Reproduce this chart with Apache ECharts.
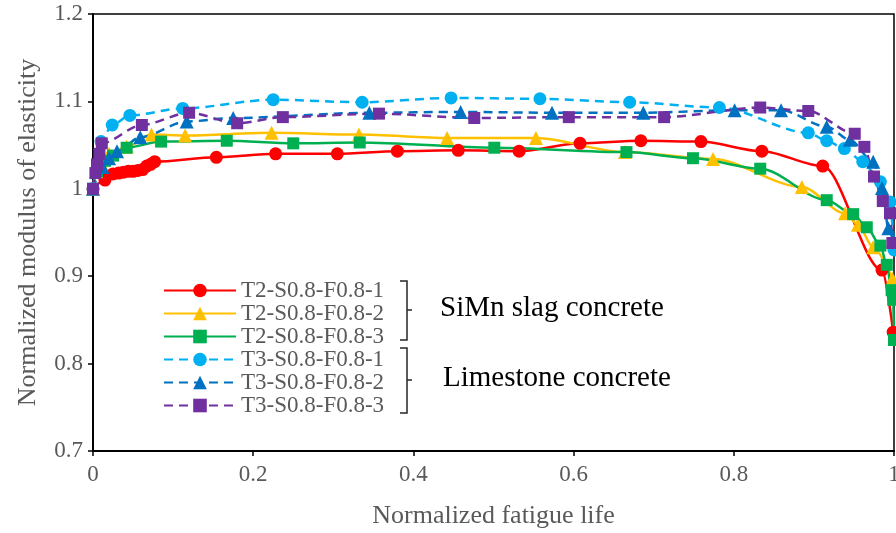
<!DOCTYPE html>
<html>
<head>
<meta charset="utf-8">
<script src="https://cdn.jsdelivr.net/npm/echarts@6/dist/echarts.min.js"></script>
<style>
  html, body { margin: 0; padding: 0; background: #fff; }
  #chart { width: 896px; height: 533px; }
</style>
</head>
<body>
<div id="chart"></div>
<script>
  // normalized fatigue life (x) and normalized modulus (y)
  var names = ['T2-S0.8-F0.8-1', 'T2-S0.8-F0.8-2', 'T2-S0.8-F0.8-3',
    'T3-S0.8-F0.8-1', 'T3-S0.8-F0.8-2', 'T3-S0.8-F0.8-3'];

  var t21X = [0, 0.015, 0.025, 0.032, 0.038, 0.044, 0.05, 0.056, 0.062, 0.067, 0.072, 0.077,
    0.154, 0.228, 0.305, 0.380, 0.456, 0.532, 0.608, 0.684, 0.759, 0.835, 0.911, 0.985, 0.999];
  var t21Y = [1.0, 1.010, 1.017, 1.018, 1.019, 1.020, 1.020, 1.021, 1.022, 1.026, 1.028, 1.031,
    1.036, 1.040, 1.040, 1.043, 1.044, 1.043, 1.052, 1.055, 1.054, 1.043, 1.026, 0.907, 0.836];

  var t22X = [0, 0.004, 0.01, 0.02, 0.042, 0.073, 0.115, 0.223, 0.332, 0.442, 0.553, 0.664,
    0.774, 0.885, 0.939, 0.955, 0.974, 0.998];
  var t22Y = [1.0, 1.02, 1.03, 1.04, 1.048, 1.062, 1.061, 1.064, 1.062, 1.058, 1.058, 1.042,
    1.034, 1.002, 0.972, 0.959, 0.933, 0.897];

  var t23X = [0, 0.005, 0.015, 0.025, 0.042, 0.085, 0.167, 0.250, 0.333, 0.501, 0.666, 0.749,
    0.833, 0.916, 0.949, 0.966, 0.983, 0.991, 0.997, 0.999, 1.0];
  var t23Y = [1.0, 1.02, 1.032, 1.038, 1.047, 1.054, 1.055, 1.052, 1.053, 1.047, 1.042, 1.035,
    1.023, 0.987, 0.971, 0.956, 0.935, 0.913, 0.884, 0.873, 0.827];

  var t31X = [0, 0.01, 0.024, 0.046, 0.112, 0.225, 0.336, 0.447, 0.558, 0.670, 0.782, 0.893,
    0.916, 0.938, 0.961, 0.983, 0.995, 1.0];
  var t31Y = [1.0, 1.054, 1.073, 1.084, 1.092, 1.102, 1.099, 1.104, 1.103, 1.099, 1.093, 1.064,
    1.055, 1.046, 1.031, 1.008, 0.985, 0.93];

  var t32X = [0, 0.012, 0.02, 0.03, 0.059, 0.117, 0.175, 0.345, 0.459, 0.573, 0.687, 0.801,
    0.859, 0.916, 0.945, 0.974, 0.985, 0.993, 0.999];
  var t32Y = [1.0, 1.025, 1.035, 1.043, 1.059, 1.077, 1.081, 1.087, 1.088, 1.087, 1.087, 1.090,
    1.090, 1.071, 1.056, 1.031, 1.001, 0.955, 0.94];

  var t33X = [0, 0.003, 0.005, 0.008, 0.011, 0.061, 0.120, 0.180, 0.237, 0.357, 0.476, 0.594,
    0.713, 0.833, 0.893, 0.951, 0.963, 0.975, 0.986, 0.995, 0.998];
  var t33Y = [1.0, 1.018, 1.028, 1.04, 1.052, 1.073, 1.087, 1.075, 1.082, 1.086, 1.081, 1.082,
    1.082, 1.093, 1.089, 1.063, 1.048, 1.014, 0.986, 0.972, 0.938];

  var xs = [t21X, t22X, t23X, t31X, t32X, t33X];
  var ys = [t21Y, t22Y, t23Y, t31Y, t32Y, t33Y];
  var colors = ['#FF0000', '#FFC000', '#00B050', '#00B0F0', '#0070C0', '#7030A0'];
  var symbols = ['circle', 'triangle', 'rect', 'circle', 'triangle', 'rect'];
  var xTicks = [0, 0.2, 0.4, 0.6, 0.8, 1];

  var serif = '"Liberation Serif", "Times New Roman", serif';
  var grey = '#595959';

  function pairs(x, y) {
    return x.map(function (v, i) { return [v, y[i]]; });
  }

  var series = names.map(function (n, i) {
    var dashed = i >= 3;
    return {
      name: n,
      type: 'line',
      data: pairs(xs[i], ys[i]),
      smooth: 0.3,
      smoothMonotone: 'x',
      symbol: symbols[i],
      symbolSize: symbols[i] == 'triangle' ? 14 : (symbols[i] == 'rect' ? 12 : 13),
      showAllSymbol: true,
      color: colors[i],
      lineStyle: { width: 2.5, type: dashed ? [9, 6] : 'solid' },
      itemStyle: { color: colors[i] },
      emphasis: { disabled: true },
      clip: false
    };
  });

  var myChart = echarts.init(document.getElementById('chart'));
  var option = {
    animation: false,
    grid: {
      left: 93, right: 2, top: 14, bottom: 82,
      outerBoundsMode: 'none',
      containLabel: false,
      show: true, borderColor: '#000', borderWidth: 1.5
    },
    legend: {
      orient: 'vertical',
      left: 163,
      top: 279,
      padding: 0,
      itemWidth: 72,
      itemHeight: 17,
      itemGap: 0,
      data: names,
      textStyle: { fontFamily: serif, fontSize: 23, color: grey }
    },
    xAxis: {
      type: 'value',
      min: 0, max: 1, interval: 0.2,
      name: 'Normalized fatigue life',
      nameLocation: 'middle',
      nameGap: 52,
      nameTextStyle: { fontFamily: serif, fontSize: 26, color: grey },
      axisLine: { show: true, lineStyle: { color: '#000', width: 2 } },
      axisTick: { show: true, length: 5, lineStyle: { color: '#000', width: 1.5 } },
      axisLabel: {
        margin: 12, fontFamily: serif, fontSize: 23, color: grey,
        formatter: function (v) { return xTicks.indexOf(+v.toFixed(1)) >= 0 ? String(+v.toFixed(1)) : ''; }
      },
      splitLine: { show: false }
    },
    yAxis: {
      type: 'value',
      min: 0.7, max: 1.2, interval: 0.1,
      name: 'Normalized modulus of elasticity',
      nameLocation: 'middle',
      nameGap: 52,
      nameTextStyle: { fontFamily: serif, fontSize: 26, color: grey },
      axisLine: { show: true, lineStyle: { color: '#000', width: 2 } },
      axisTick: { show: true, length: 5, lineStyle: { color: '#000', width: 1.5 } },
      axisLabel: {
        margin: 10, fontFamily: serif, fontSize: 23, color: grey,
        formatter: function (v) { return String(+v.toFixed(1)); }
      },
      splitLine: { show: false }
    },
    graphic: [
      {
        type: 'polyline', silent: true,
        shape: { points: [[400, 281], [407, 281], [407, 340], [400, 340]] },
        style: { stroke: '#262626', lineWidth: 1.5, fill: null }
      },
      {
        type: 'line', silent: true,
        shape: { x1: 407, y1: 310, x2: 412, y2: 310 },
        style: { stroke: '#262626', lineWidth: 1.5 }
      },
      {
        type: 'polyline', silent: true,
        shape: { points: [[400, 348], [407, 348], [407, 413], [400, 413]] },
        style: { stroke: '#262626', lineWidth: 1.5, fill: null }
      },
      {
        type: 'line', silent: true,
        shape: { x1: 407, y1: 380, x2: 412, y2: 380 },
        style: { stroke: '#262626', lineWidth: 1.5 }
      },
      {
        type: 'text', left: 440, top: 294, silent: true,
        style: { text: 'SiMn slag concrete', font: '29px ' + serif, fill: '#000' }
      },
      {
        type: 'text', left: 443, top: 364, silent: true,
        style: { text: 'Limestone concrete', font: '29px ' + serif, fill: '#000' }
      }
    ],
    series: series
  };
  myChart.setOption(option);
</script>
</body>
</html>
